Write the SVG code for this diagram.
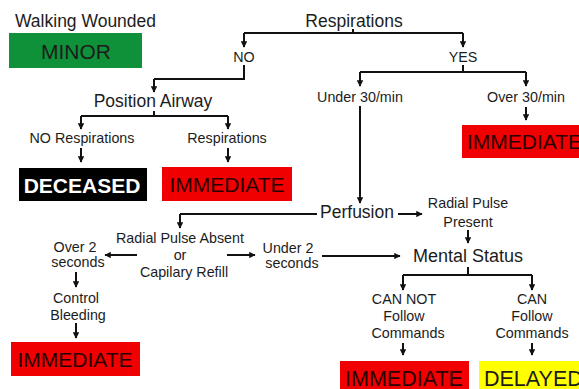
<svg xmlns="http://www.w3.org/2000/svg" width="579" height="389" viewBox="0 0 579 389">
<defs>
<marker id="ah" viewBox="0 0 10 10" refX="9" refY="5" markerWidth="3.2" markerHeight="3.2" orient="auto" markerUnits="strokeWidth">
<path d="M0,0 L10,5 L0,10 z" fill="#111"/>
</marker>
<style>
text{font-family:"Liberation Sans",Arial,sans-serif;fill:#1c1c1c}
.s{font-size:14.3px;text-anchor:middle}
.m{font-size:17.5px;text-anchor:middle}
.b{font-size:21px;text-anchor:middle}
.ln{fill:none;stroke:#111;stroke-width:2}
.ar{fill:none;stroke:#111;stroke-width:2;marker-end:url(#ah)}
.red{fill:#f00000}
.rt{fill:#2a0000}
</style>
</defs>
<rect width="579" height="389" fill="#fff"/>
<g id="walking"><text x="15" y="27" style="font-size:17.5px">Walking Wounded</text></g>
<g id="minor"><rect x="9" y="33" width="133" height="35" fill="#0e9138"/><text class="b" x="76" y="59" fill="#111">MINOR</text></g>
<g id="respirations"><text class="m" x="354" y="27">Respirations</text></g>
<g id="no"><text class="s" x="244" y="62">NO</text></g>
<g id="yes"><text class="s" x="463" y="62">YES</text></g>
<g id="position"><text class="m" x="153" y="107">Position Airway</text></g>
<g id="noresp"><text class="s" x="82" y="143">NO Respirations</text></g>
<g id="resp2"><text class="s" x="227" y="143">Respirations</text></g>
<g id="deceased"><rect x="19" y="168" width="128" height="33" fill="#000"/><text class="b" x="82" y="193" style="fill:#fff;font-weight:bold">DECEASED</text></g>
<g id="imm1"><rect class="red" x="162" y="167" width="130" height="34"/><text class="b rt" x="227" y="192">IMMEDIATE</text></g>
<g id="under30"><text class="s" x="360" y="102">Under 30/min</text></g>
<g id="over30"><text class="s" x="526" y="102">Over 30/min</text></g>
<g id="imm2"><rect class="red" x="462" y="125" width="130" height="33"/><text x="467" y="149" class="rt" style="font-size:21px">IMMEDIATE</text></g>
<g id="perfusion"><text class="m" x="357" y="218">Perfusion</text></g>
<g id="radialpresent"><text class="s" x="468" y="208">Radial Pulse</text><text class="s" x="468" y="227">Present</text></g>
<g id="radialabsent"><text class="s" x="180" y="243">Radial Pulse Absent</text><text class="s" x="180" y="260">or</text><text class="s" x="184" y="277">Capilary Refill</text></g>
<g id="over2"><text class="s" x="75" y="252">Over 2</text><text class="s" x="78" y="267">seconds</text></g>
<g id="control"><text class="s" x="76" y="303">Control</text><text class="s" x="78" y="320">Bleeding</text></g>
<g id="imm3"><rect class="red" x="11" y="342" width="129" height="34"/><text class="b rt" x="75" y="367">IMMEDIATE</text></g>
<g id="under2"><text class="s" x="288" y="253">Under 2</text><text class="s" x="292" y="268">seconds</text></g>
<g id="mental"><text class="m" x="468" y="262" style="font-size:18px">Mental Status</text></g>
<g id="cannot"><text class="s" x="404" y="304">CAN NOT</text><text class="s" x="404" y="321">Follow</text><text class="s" x="408" y="338">Commands</text></g>
<g id="can"><text class="s" x="532" y="304">CAN</text><text class="s" x="532" y="321">Follow</text><text class="s" x="532" y="338">Commands</text></g>
<g id="imm4"><rect class="red" x="340" y="361" width="129" height="30"/><text class="b rt" x="404" y="386" style="font-size:21.5px">IMMEDIATE</text></g>
<g id="delayed"><rect x="479" y="361" width="110" height="30" fill="#ffff00"/><text x="484" y="386" style="font-size:21.5px" fill="#1c1c1c">DELAYED</text></g>
<g id="connectors">
<path class="ln" d="M353,29 V33 M244,33 H463"/>
<path class="ar" d="M244,33 V47"/>
<path class="ar" d="M463,33 V47"/>
<path class="ln" d="M244,65 V79 H154"/>
<path class="ar" d="M154,79 V92"/>
<path class="ln" d="M463,65 V72 M360,72 H526"/>
<path class="ar" d="M360,72 V86"/>
<path class="ar" d="M526,72 V86"/>
<path class="ar" d="M526,107 V120"/>
<path class="ar" d="M360,106 V203"/>
<path class="ln" d="M154,111 V116 M81,116 H228"/>
<path class="ar" d="M81,116 V129"/>
<path class="ar" d="M228,116 V129"/>
<path class="ar" d="M81,148 V162"/>
<path class="ar" d="M228,148 V162"/>
<path class="ln" d="M317,214 H180"/>
<path class="ar" d="M180,214 V228"/>
<path class="ar" d="M398,214 H422"/>
<path class="ar" d="M468,230 V243"/>
<path class="ar" d="M137,255 H105"/>
<path class="ar" d="M227,255 H255"/>
<path class="ar" d="M76,272 V287"/>
<path class="ar" d="M76,323 V338"/>
<path class="ar" d="M322,256 H400"/>
<path class="ln" d="M468,267 V275 M403,275 H532"/>
<path class="ar" d="M403,275 V290"/>
<path class="ar" d="M532,275 V290"/>
<path class="ar" d="M403,343 V355"/>
<path class="ar" d="M532,343 V355"/>
</g>
</svg>
